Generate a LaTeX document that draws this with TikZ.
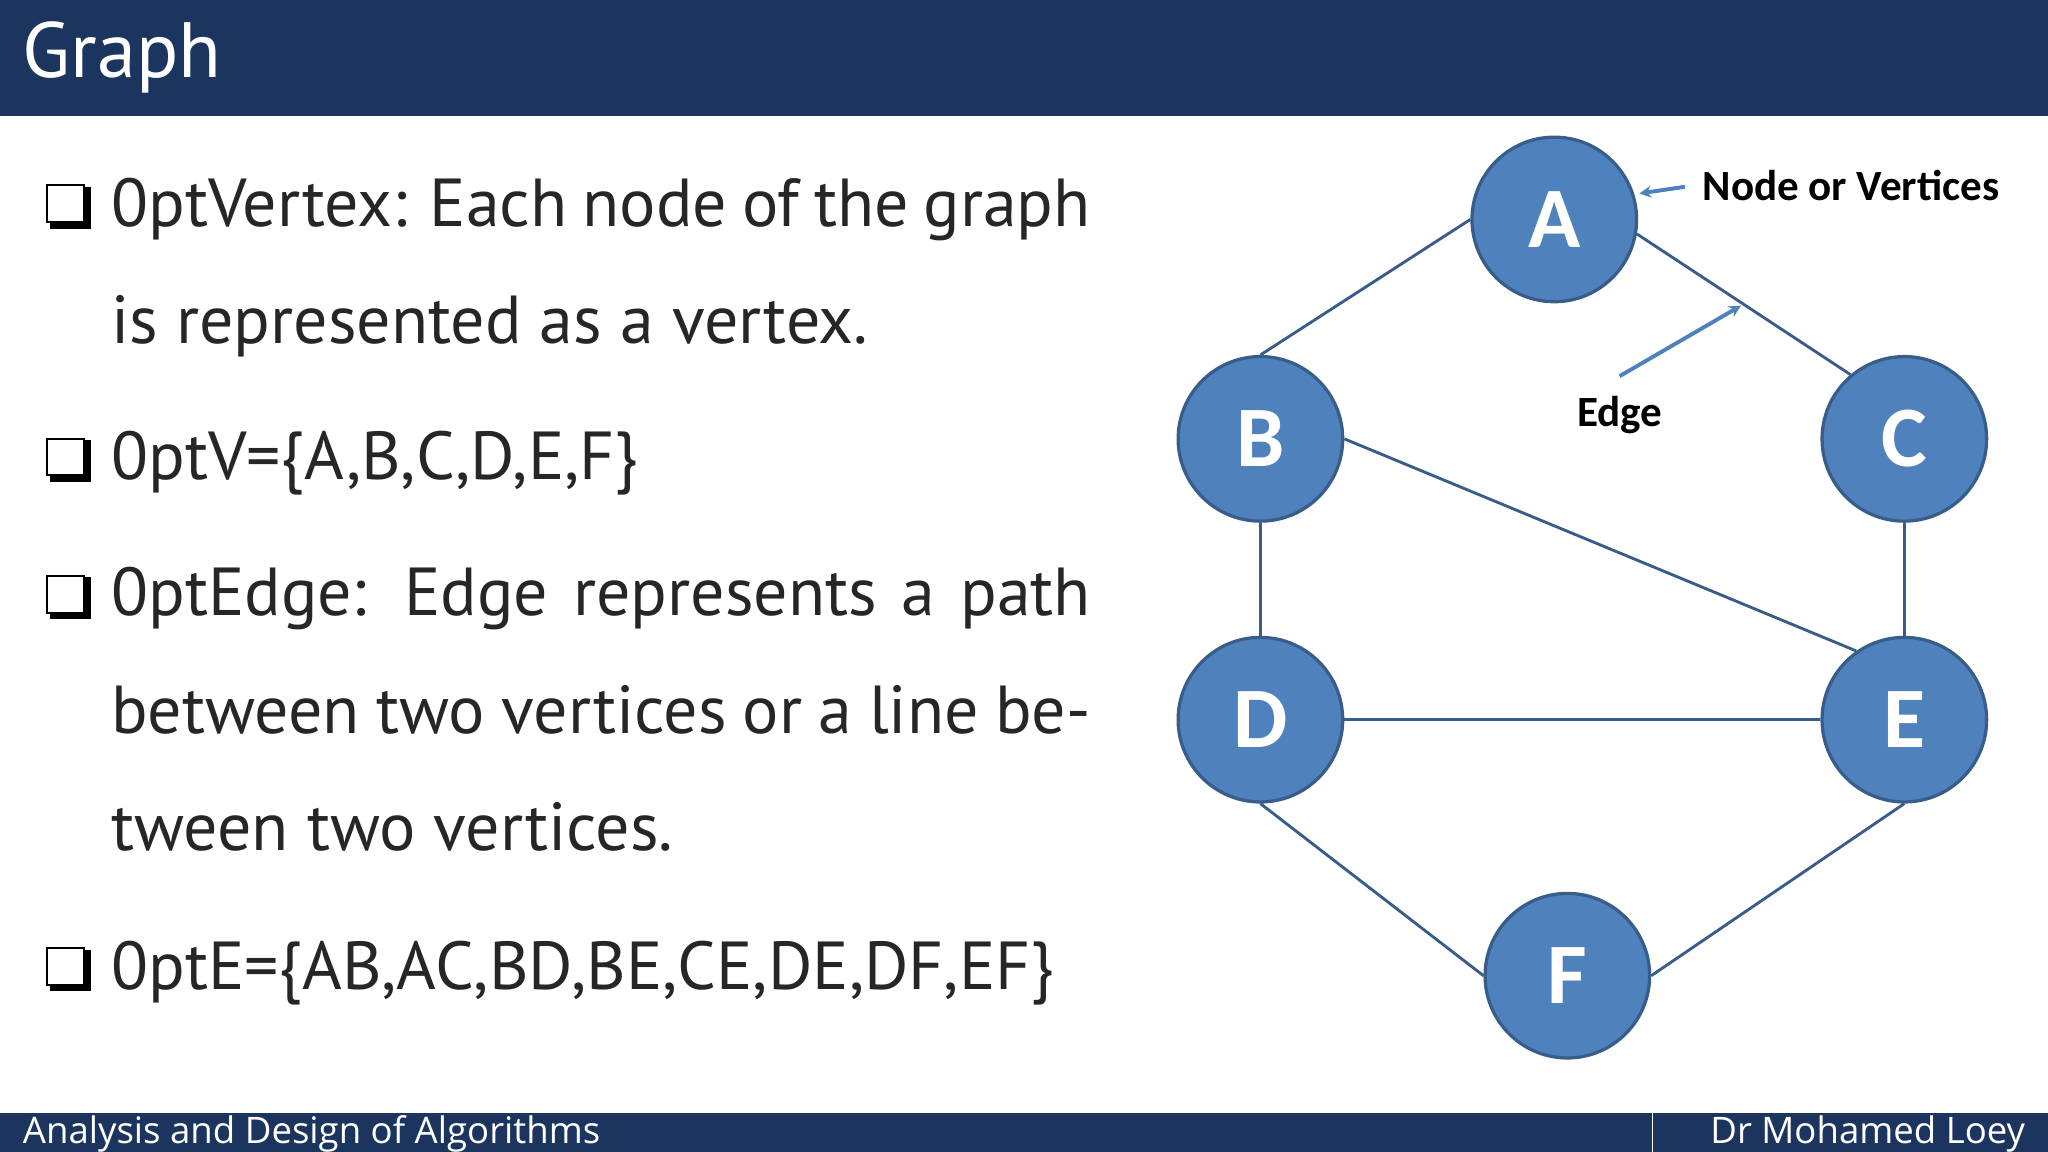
\documentclass[tikz,border=0pt]{standalone}
\usepackage{fontspec}
\setmainfont{PT Sans}
\newfontfamily\calib{Carlito}
\newfontfamily\opens{Open Sans}
\definecolor{navy}{HTML}{1C355E}
\definecolor{nfill}{HTML}{4F81BD}
\definecolor{nline}{HTML}{385D8A}
\begin{document}
\begin{tikzpicture}[x=1pt,y=-1pt,
  vtx/.style={circle,draw=nline,line width=2.5pt,fill=nfill,minimum size=126pt,inner sep=0pt,text=white,font=\calib\bfseries\fontsize{66}{66}\selectfont},
  edg/.style={draw=nline,line width=2.2pt},
  ann/.style={draw=nfill,line width=3pt,-stealth},
  body/.style={anchor=north west,inner sep=0pt,text width=750pt,align=justify,font=\fontsize{52}{90}\selectfont\hyphenpenalty=10000\exhyphenpenalty=10000,text=black!85},
  bul/.style={draw=black,line width=1.5pt,fill=white,minimum size=28pt,inner sep=0pt}]
\useasboundingbox (0,0) rectangle (1568,882);
\fill[navy] (0,0) rectangle (1568,89);
\node[anchor=west,text=white,font=\fontsize{60}{60}\selectfont] (title) at (14,44) {Graph};
\fill[navy] (0,852) rectangle (1568,882);
\draw[white,line width=1pt] (1265,852) -- (1265,882);
\node[anchor=west,text=white,font=\opens\fontsize{28}{28}\selectfont] (f1) at (14,868) {Analysis and Design of Algorithms};
\node[anchor=east,text=white,font=\opens\fontsize{28}{28}\selectfont] (f2) at (1554,868) {Dr Mohamed Loey};
% bullets
\foreach \y in {156,350,455,740}{
  \fill[black] (38,\y-13) rectangle (70,\y+19);
  \node[bul] at (50,\y) {};
}
\node[body] (t1) at (85,136) {Vertex: Each node of the graph is represented as a vertex.};
\node[body] (t2) at (85,330) {V=\{A,B,C,D,E,F\}};
\node[body] (t3) at (85,434) {Edge: Edge represents a path between two vertices or a line between two vertices.};
\node[body] (t4) at (85,720) {E=\{AB,AC,BD,BE,CE,DE,DF,EF\}};
% graph
\node[vtx] (A) at (1190,168) {A};
\node[vtx] (B) at (965,336) {B};
\node[vtx] (C) at (1458,336) {C};
\node[vtx] (D) at (965,551) {D};
\node[vtx] (E) at (1458,551) {E};
\node[vtx] (F) at (1200,747) {F};
\draw[edg] (A.180) -- (B.90);
\draw[edg] (A.-10) -- (C.130);
\draw[edg] (B.0) -- (E.125);
\draw[edg] (B.-90) -- (D.90);
\draw[edg] (C.-90) -- (E.90);
\draw[edg] (D.0) -- (E.180);
\draw[edg] (D.-90) -- (F.180);
\draw[edg] (E.-90) -- (F.0);
\node[anchor=west,font=\calib\bfseries\fontsize{33}{33}\selectfont] (nv) at (1300,142) {Node or Vertices};
\node[font=\calib\bfseries\fontsize{33}{33}\selectfont] (el) at (1240,318) {Edge};
\coordinate (e0) at (1240,288);
\coordinate (e1) at (1333,234);
\coordinate (n0) at (1290,143);
\draw[ann] (e0) -- (e1);
\draw[ann] (n0) -- ([xshift=4pt]A.18);
\end{tikzpicture}
\end{document}
